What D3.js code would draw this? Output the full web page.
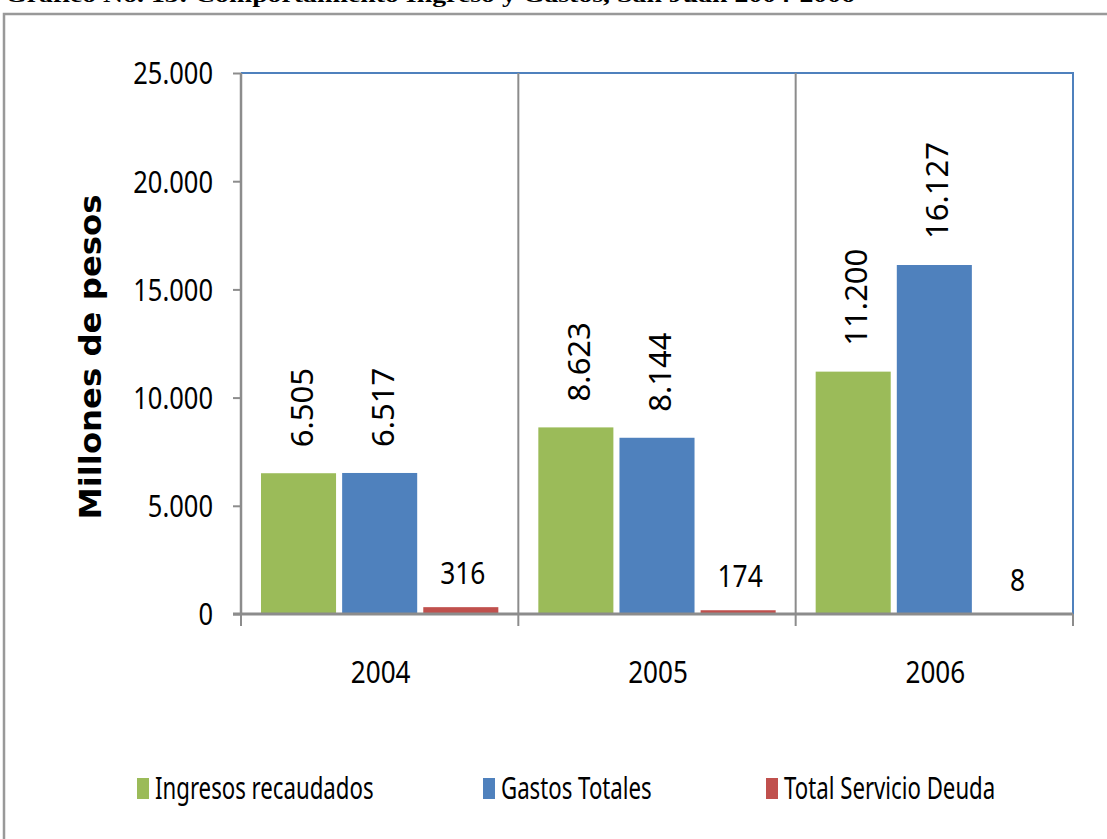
<!DOCTYPE html>
<html lang="es">
  <head>
    <meta charset="utf-8"/>
    <title>Comportamiento Ingreso y Gastos</title>
    <script src="https://cdn.jsdelivr.net/npm/d3@7"></script>
    <style>
      body { margin: 0; background: #fff; }
      text { font-family: "Noto Sans", "Open Sans", sans-serif; fill: #000; }
    </style>
  </head>
  <body>
    <div id="chart"></div>
    <script type="text/javascript">

      // data
      var years = ["2004", "2005", "2006"];
      var series = ["Ingresos recaudados", "Gastos Totales", "Total Servicio Deuda"];
      var ingresos = [6505, 8623, 11200];
      var gastos = [6517, 8144, 16127];
      var deuda = [316, 174, 8];
      var yTicks = [0, 5000, 10000, 15000, 20000, 25000];

      var colours = ["#9BBB59", "#4F81BD", "#C0504D"];
      var values = [ingresos, gastos, deuda];

      var w = 1107;
      var h = 839;

      // plot area (not called "top": that name belongs to window)
      var plotLeft = 241, plotRight = 1073, plotTop = 73, plotBottom = 614;

      // numbers use a dot as thousands separator
      var locale = d3.formatLocale({decimal: ",", thousands: ".", grouping: [3], currency: ["$", ""]});
      var fmt = locale.format(",d");

      var svg = d3.select("#chart")
        .append("svg")
        .attr("width", w)
        .attr("height", h)
      ;

      // squeeze text horizontally, the source chart has narrow lettering
      function squeeze(selection, s) {
        selection.each(function() {
          var len = this.getComputedTextLength();
          d3.select(this)
            .attr("textLength", len * s)
            .attr("lengthAdjust", "spacingAndGlyphs");
        });
      }

      // title, cut off at the top of the picture
      svg.append("text")
        .attr("x", 5)
        .attr("y", 2)
        .attr("textLength", 850)
        .attr("lengthAdjust", "spacingAndGlyphs")
        .style("font-family", "'Liberation Serif', serif")
        .style("font-weight", "bold")
        .style("font-size", "22px")
        .text("Gráfico No. 13: Comportamiento Ingreso y Gastos, San Juan 2004-2006")
      ;

      // outer chart frame
      svg.append("path")
        .attr("d", "M4," + (h + 5) + "V14H" + (w + 5))
        .attr("fill", "none")
        .attr("stroke", "#999")
        .attr("stroke-width", 2.5)
      ;

      // scales
      var x0 = d3.scaleBand()
        .domain(years)
        .range([plotLeft, plotRight])
        .padding(0)
      ;
      var x1 = d3.scaleBand()
        .domain(d3.range(series.length))
        .range([20, x0.bandwidth() - 20])
        .paddingInner(0.075)
      ;
      var y = d3.scaleLinear()
        .domain([0, 25000])
        .range([plotBottom, plotTop])
      ;

      // plot area outline (blue top and right)
      svg.append("path")
        .attr("d", "M" + plotLeft + "," + plotTop + "H" + plotRight + "V" + plotBottom)
        .attr("fill", "none")
        .attr("stroke", "#4F81BD")
        .attr("stroke-width", 2)
      ;

      // category separators with tick marks below the axis
      svg.selectAll(".sep")
        .data(years.slice(1))
        .enter()
        .append("line")
        .attr("class", "sep")
        .attr("x1", function(d) { return x0(d); })
        .attr("x2", function(d) { return x0(d); })
        .attr("y1", plotTop)
        .attr("y2", plotBottom + 12)
        .attr("stroke", "#8c8c8c")
        .attr("stroke-width", 2)
      ;
      svg.selectAll(".edge")
        .data([plotLeft, plotRight])
        .enter()
        .append("line")
        .attr("class", "edge")
        .attr("x1", function(d) { return d; })
        .attr("x2", function(d) { return d; })
        .attr("y1", plotBottom)
        .attr("y2", plotBottom + 12)
        .attr("stroke", "#8c8c8c")
        .attr("stroke-width", 2)
      ;

      // bars
      var groups = svg.selectAll(".year")
        .data(years)
        .enter()
        .append("g")
        .attr("class", "year")
        .attr("transform", function(d) { return "translate(" + x0(d) + ",0)"; })
      ;
      groups.selectAll("rect")
        .data(function(d, i) {
          return values.map(function(v, s) { return {s: s, v: v[i]}; });
        })
        .enter()
        .append("rect")
        .attr("x", function(d) { return x1(d.s); })
        .attr("y", function(d) { return y(d.v); })
        .attr("width", x1.bandwidth())
        .attr("height", function(d) { return plotBottom - y(d.v); })
        .attr("fill", function(d) { return colours[d.s]; })
      ;

      // value labels: large values are rotated, small ones are flat
      groups.selectAll(".val")
        .data(function(d, i) {
          return values.map(function(v, s) { return {s: s, v: v[i]}; });
        })
        .enter()
        .append("text")
        .attr("class", "val")
        .attr("transform", function(d) {
          var cx = x1(d.s) + x1.bandwidth() / 2;
          if (d.v >= 1000) {
            return "translate(" + (cx + 2) + "," + (y(d.v) - 26) + ") rotate(-90)";
          }
          return "translate(" + (cx + 2) + "," + (y(d.v) - 23) + ")";
        })
        .attr("text-anchor", function(d) { return d.v >= 1000 ? "start" : "middle"; })
        .attr("dominant-baseline", function(d) { return d.v >= 1000 ? "central" : "auto"; })
        .style("font-size", function(d) { return d.v >= 1000 ? "31px" : "30px"; })
        .text(function(d) { return fmt(d.v); })
      ;
      groups.selectAll(".val")
        .filter(function(d) { return d.v < 1000; })
        .call(squeeze, 0.88)
      ;

      // y axis
      var yAxis = svg.append("g")
        .attr("transform", "translate(" + plotLeft + ",0)")
        .call(d3.axisLeft(y).tickValues(yTicks).tickSize(8).tickFormat(fmt))
      ;
      yAxis.select(".domain")
        .attr("stroke", "#8c8c8c")
        .attr("stroke-width", 2.5)
        .attr("d", "M0," + plotTop + "V" + plotBottom)
      ;
      yAxis.selectAll(".tick line")
        .attr("stroke", "#8c8c8c")
        .attr("stroke-width", 2)
      ;
      yAxis.selectAll(".tick text")
        .attr("x", -28)
        .attr("dy", "0.36em")
        .attr("fill", "#000")
        .style("font-family", "'Noto Sans', sans-serif")
        .style("font-size", "30px")
        .call(squeeze, 0.85)
      ;

      // x axis line
      svg.append("line")
        .attr("x1", plotLeft - 8)
        .attr("x2", plotRight)
        .attr("y1", plotBottom)
        .attr("y2", plotBottom)
        .attr("stroke", "#8c8c8c")
        .attr("stroke-width", 3)
      ;

      // category labels
      svg.selectAll(".cat")
        .data(years)
        .enter()
        .append("text")
        .attr("class", "cat")
        .attr("x", function(d) { return x0(d) + x0.bandwidth() / 2 + 1; })
        .attr("y", 683)
        .attr("text-anchor", "middle")
        .style("font-size", "30px")
        .text(function(d) { return d; })
        .call(squeeze, 0.87)
      ;

      // y axis title
      svg.append("text")
        .attr("transform", "translate(101,357) rotate(-90)")
        .attr("text-anchor", "middle")
        .attr("textLength", 325)
        .attr("lengthAdjust", "spacingAndGlyphs")
        .style("font-family", "'DejaVu Sans', sans-serif")
        .style("font-weight", "bold")
        .style("font-size", "31px")
        .text("Millones de pesos")
      ;

      // legend
      var legendX = [137, 483, 766];
      var legend = svg.selectAll(".legend")
        .data(series)
        .enter()
        .append("g")
        .attr("class", "legend")
        .attr("transform", function(d, i) { return "translate(" + legendX[i] + ",778)"; })
      ;
      legend.append("rect")
        .attr("width", 12)
        .attr("height", 21)
        .attr("fill", function(d, i) { return colours[i]; })
      ;
      legend.append("text")
        .attr("x", 18)
        .attr("y", 21)
        .style("font-size", "30px")
        .text(function(d) { return d; })
        .call(squeeze, 0.74)
      ;
    </script>
  </body>
</html>
